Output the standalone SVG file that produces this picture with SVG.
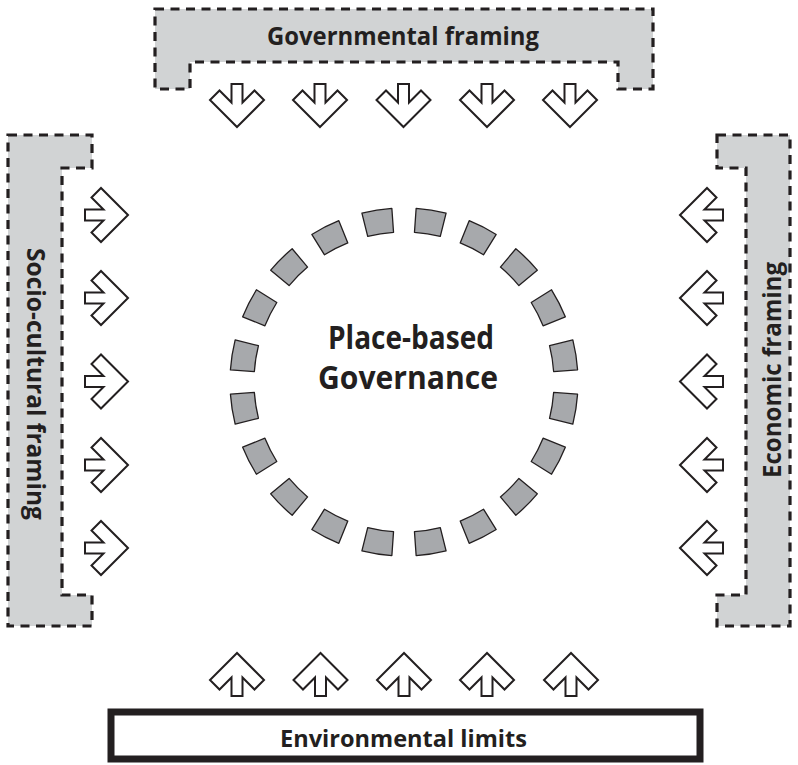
<svg xmlns="http://www.w3.org/2000/svg" xmlns:xlink="http://www.w3.org/1999/xlink" width="798" height="765" viewBox="0 0 798 765">
  <style>
    .frame { fill: #d1d3d4; stroke: #231f20; stroke-width: 3.2; stroke-dasharray: 9 6.5; stroke-linejoin: miter; }
    .label { font-family: "Open Sans", "Noto Sans", "DejaVu Sans", sans-serif; font-weight: 700; fill: #231f20; text-anchor: middle; }
    .arrow { fill: #ffffff; stroke: #231f20; stroke-width: 2; stroke-linejoin: miter; }
    .seg { fill: #a7a9ac; stroke: #231f20; stroke-width: 1.3; stroke-linejoin: round; }
    .limits { fill: #ffffff; stroke: #231f20; stroke-width: 7; }
  </style>
  <defs>
    <!-- outline arrow pointing down, tip at origin -->
    <path id="arr" class="arrow" d="M0,0 L27,-27 L17.5,-36.5 L5.5,-24.5 L5.5,-43 L-5.5,-43 L-5.5,-24.5 L-17.5,-36.5 L-27,-27 Z"/>
    <!-- one ring segment centred on the upward direction -->
    <path id="seg" class="seg" d="M-15.166,-173.337 A174,174 0 0 1 15.166,-173.337 L13.074,-149.429 A150,150 0 0 0 -13.074,-149.429 Z"/>
  </defs>
  <rect width="798" height="765" fill="#ffffff"/>

  <g id="governmental-framing">
    <path class="frame" d="M155,9 L653,9 L653,89 L618,89 L618,62 L190,62 L190,89 L155,89 Z"/>
    <text class="label" x="403" y="45" font-size="25" textLength="272" lengthAdjust="spacingAndGlyphs">Governmental framing</text>
  </g>

  <g id="socio-cultural-framing">
    <path class="frame" d="M8,135 L92,135 L92,168 L62,168 L62,595 L92,595 L92,626 L8,626 Z"/>
    <text class="label" transform="translate(27,384) rotate(90)" x="0" y="0" font-size="25" textLength="272" lengthAdjust="spacingAndGlyphs">Socio-cultural framing</text>
  </g>

  <g id="economic-framing">
    <path class="frame" d="M717,135 L790,135 L790,626 L717,626 L717,595 L746,595 L746,168 L717,168 Z"/>
    <text class="label" transform="translate(781,370) rotate(-90)" x="0" y="0" font-size="25" textLength="216" lengthAdjust="spacingAndGlyphs">Economic framing</text>
  </g>

  <g id="environmental-limits">
    <rect class="limits" x="111" y="712" width="589" height="47"/>
    <text class="label" x="403.5" y="747" font-size="24" textLength="247" lengthAdjust="spacingAndGlyphs">Environmental limits</text>
  </g>

  <g id="place-based-governance">
    <g transform="translate(404,382)">
      <use xlink:href="#seg" href="#seg" transform="rotate(9)"/>
      <use xlink:href="#seg" href="#seg" transform="rotate(27)"/>
      <use xlink:href="#seg" href="#seg" transform="rotate(45)"/>
      <use xlink:href="#seg" href="#seg" transform="rotate(63)"/>
      <use xlink:href="#seg" href="#seg" transform="rotate(81)"/>
      <use xlink:href="#seg" href="#seg" transform="rotate(99)"/>
      <use xlink:href="#seg" href="#seg" transform="rotate(117)"/>
      <use xlink:href="#seg" href="#seg" transform="rotate(135)"/>
      <use xlink:href="#seg" href="#seg" transform="rotate(153)"/>
      <use xlink:href="#seg" href="#seg" transform="rotate(171)"/>
      <use xlink:href="#seg" href="#seg" transform="rotate(189)"/>
      <use xlink:href="#seg" href="#seg" transform="rotate(207)"/>
      <use xlink:href="#seg" href="#seg" transform="rotate(225)"/>
      <use xlink:href="#seg" href="#seg" transform="rotate(243)"/>
      <use xlink:href="#seg" href="#seg" transform="rotate(261)"/>
      <use xlink:href="#seg" href="#seg" transform="rotate(279)"/>
      <use xlink:href="#seg" href="#seg" transform="rotate(297)"/>
      <use xlink:href="#seg" href="#seg" transform="rotate(315)"/>
      <use xlink:href="#seg" href="#seg" transform="rotate(333)"/>
      <use xlink:href="#seg" href="#seg" transform="rotate(351)"/>
    </g>
    <text class="label" x="411" y="349" font-size="32" textLength="166" lengthAdjust="spacingAndGlyphs">Place-based</text>
    <text class="label" x="408" y="389" font-size="32" textLength="180" lengthAdjust="spacingAndGlyphs">Governance</text>
  </g>

  <g id="arrows">
    <!-- from governmental framing -->
    <use href="#arr" xlink:href="#arr" transform="translate(237,127)"/>
    <use href="#arr" xlink:href="#arr" transform="translate(320,127)"/>
    <use href="#arr" xlink:href="#arr" transform="translate(403.5,127)"/>
    <use href="#arr" xlink:href="#arr" transform="translate(487,127)"/>
    <use href="#arr" xlink:href="#arr" transform="translate(570,127)"/>
    <!-- from environmental limits -->
    <use href="#arr" xlink:href="#arr" transform="translate(237,653) rotate(180)"/>
    <use href="#arr" xlink:href="#arr" transform="translate(320.5,653) rotate(180)"/>
    <use href="#arr" xlink:href="#arr" transform="translate(404,653) rotate(180)"/>
    <use href="#arr" xlink:href="#arr" transform="translate(487,653) rotate(180)"/>
    <use href="#arr" xlink:href="#arr" transform="translate(571,653) rotate(180)"/>
    <!-- from socio-cultural framing -->
    <use href="#arr" xlink:href="#arr" transform="translate(128,215) rotate(-90)"/>
    <use href="#arr" xlink:href="#arr" transform="translate(128,298) rotate(-90)"/>
    <use href="#arr" xlink:href="#arr" transform="translate(128,381.5) rotate(-90)"/>
    <use href="#arr" xlink:href="#arr" transform="translate(128,465) rotate(-90)"/>
    <use href="#arr" xlink:href="#arr" transform="translate(128,548) rotate(-90)"/>
    <!-- from economic framing -->
    <use href="#arr" xlink:href="#arr" transform="translate(680,215) rotate(90)"/>
    <use href="#arr" xlink:href="#arr" transform="translate(680,298) rotate(90)"/>
    <use href="#arr" xlink:href="#arr" transform="translate(680,381.5) rotate(90)"/>
    <use href="#arr" xlink:href="#arr" transform="translate(680,465) rotate(90)"/>
    <use href="#arr" xlink:href="#arr" transform="translate(680,548) rotate(90)"/>
  </g>
</svg>
